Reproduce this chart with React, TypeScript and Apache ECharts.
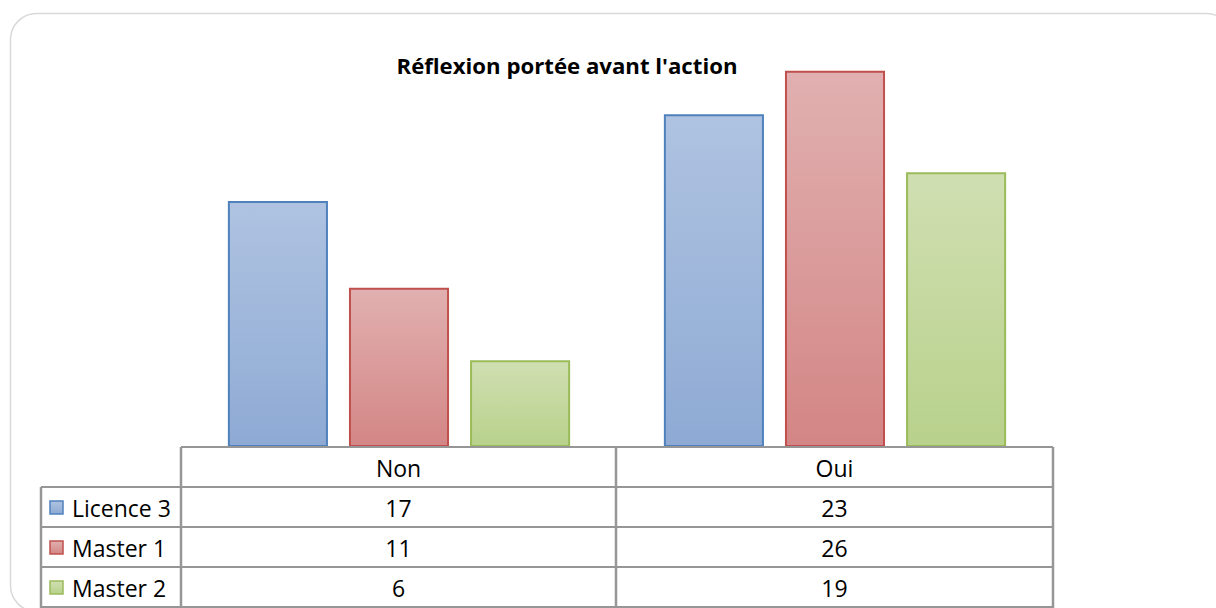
import React, { useEffect, useRef } from "react";
import * as echarts from "echarts";

const categories = ["Non", "Oui"];
const seriesNames = ["Licence 3", "Master 1", "Master 2"];
const licence3 = [17, 23];
const master1 = [11, 26];
const master2 = [6, 19];
const titleText = "Réflexion portée avant l'action";

const seriesData = [licence3, master1, master2];
const borderColors = ["#4f81bd", "#c0504d", "#9bbb59"];
const gradTop = ["#afc3e1", "#e1b0b0", "#d0dfb2"];
const gradBottom = ["#8eaad4", "#d38685", "#b8d18b"];

const FONT = "'Open Sans', Lato, sans-serif";

export default function App() {
  const ref = useRef<HTMLDivElement>(null);
  useEffect(() => {
    document.body.style.margin = "0";
    const chart = echarts.init(ref.current!, null, { renderer: "svg" });

    const gridLeft = 181;
    const gridRight = 1053;
    const baseY = 447;
    const rowH = 40;
    const legendLeft = 41;
    const colMid = 616;
    const lineColor = "#969696";

    const g: any[] = [];
    g.push({
      type: "rect",
      shape: { x: 10.5, y: 13.5, width: 1222, height: 598, r: 26 },
      style: { fill: "none", stroke: "#d9d9d9", lineWidth: 1.5 },
      z: 0,
    });
    g.push({
      type: "text",
      x: 567,
      y: 65,
      style: {
        text: titleText,
        fill: "#000",
        font: `bold 22.2px ${FONT}`,
        textAlign: "center",
        textVerticalAlign: "middle",
      },
    });
    const hl = (x1: number, x2: number, y: number) =>
      g.push({
        type: "line",
        shape: { x1, y1: y, x2, y2: y },
        style: { stroke: lineColor, lineWidth: 2 },
        z: 10,
      });
    const vl = (x: number, y1: number, y2: number, w = 2.5) =>
      g.push({
        type: "line",
        shape: { x1: x, y1, x2: x, y2 },
        style: { stroke: lineColor, lineWidth: w },
        z: 10,
      });
    hl(gridLeft, gridRight, baseY);
    hl(legendLeft, gridRight, baseY + rowH);
    hl(legendLeft, gridRight, baseY + 2 * rowH);
    hl(legendLeft, gridRight, baseY + 3 * rowH);
    hl(legendLeft, gridRight, baseY + 4 * rowH);
    vl(legendLeft, baseY + rowH, 620);
    vl(gridLeft, baseY, 620);
    vl(colMid, baseY, 620);
    vl(gridRight, baseY, 620);

    const TFS = 23;
    const colCenters = [(gridLeft + colMid) / 2, (colMid + gridRight) / 2];
    categories.forEach((c, i) => {
      g.push({
        type: "text",
        x: colCenters[i],
        y: baseY + rowH / 2 + 1,
        style: {
          text: c,
          fill: "#000",
          font: `${TFS}px ${FONT}`,
          textAlign: "center",
          textVerticalAlign: "middle",
        },
      });
    });
    seriesNames.forEach((name, r) => {
      const cy = baseY + rowH * (r + 1) + rowH / 2 + 1;
      g.push({
        type: "rect",
        shape: { x: 50, y: cy - 7, width: 13, height: 13 },
        style: {
          fill: new echarts.graphic.LinearGradient(0, 0, 0, 1, [
            { offset: 0, color: gradTop[r] },
            { offset: 1, color: gradBottom[r] },
          ]),
          stroke: borderColors[r],
          lineWidth: 1.5,
        },
      });
      g.push({
        type: "text",
        x: 72,
        y: cy,
        style: {
          text: name,
          fill: "#000",
          font: `${TFS}px ${FONT}`,
          textAlign: "left",
          textVerticalAlign: "middle",
        },
      });
      seriesData[r].forEach((v, i) => {
        g.push({
          type: "text",
          x: colCenters[i],
          y: cy,
          style: {
            text: String(v),
            fill: "#000",
            font: `${TFS}px ${FONT}`,
            textAlign: "center",
            textVerticalAlign: "middle",
          },
        });
      });
    });

    chart.setOption({
      animation: false,
      backgroundColor: "#fff",
      grid: { left: gridLeft, right: 1216 - gridRight, top: 13, bottom: 608 - baseY },
      xAxis: {
        type: "category",
        data: categories,
        axisLine: { show: false },
        axisTick: { show: false },
        axisLabel: { show: false },
      },
      yAxis: {
        type: "value",
        min: 0,
        max: 30,
        show: false,
        splitLine: { show: false },
      },
      series: seriesNames.map((name, r) => ({
        type: "bar",
        name,
        data: seriesData[r],
        barGap: "21%",
        barCategoryGap: "21.5%",
        itemStyle: {
          color: new echarts.graphic.LinearGradient(0, 0, 0, 1, [
            { offset: 0, color: gradTop[r] },
            { offset: 1, color: gradBottom[r] },
          ]),
          borderColor: borderColors[r],
          borderWidth: 2,
        },
      })),
      graphic: g,
    });
    return () => chart.dispose();
  }, []);
  return <div ref={ref} style={{ width: 1216, height: 608 }} />;
}
